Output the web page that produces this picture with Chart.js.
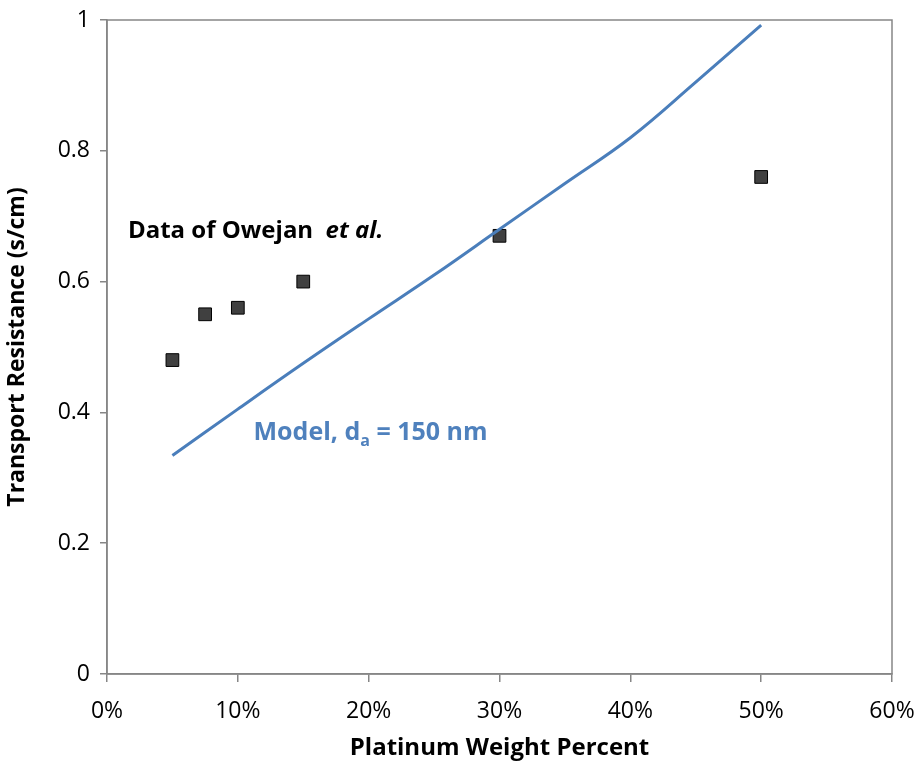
<!DOCTYPE html>
<html>
<head>
<meta charset="utf-8">
<script src="https://cdn.jsdelivr.net/npm/chart.js@4.4.1/dist/chart.umd.min.js"></script>
<style>
  html, body { margin: 0; padding: 0; background: #fff; }
  #wrap { width: 920px; height: 763px; }
</style>
</head>
<body>
<div id="wrap"><canvas id="chart"></canvas></div>
<script>
// measured data (Owejan et al.)
const dataX = [5, 7.5, 10, 15, 30, 50];
const dataY = [0.48, 0.55, 0.56, 0.60, 0.67, 0.76];

// model curve, d_a = 150 nm
const modelX = [5, 10, 15, 20, 25, 30, 35, 40, 45, 50];
const modelY = [0.334, 0.405, 0.475, 0.543, 0.61, 0.68, 0.75, 0.82, 0.905, 0.992];

const xTicks = [0, 10, 20, 30, 40, 50, 60];
const yTicks = [0, 0.2, 0.4, 0.6, 0.8, 1];

const FONT = '"Open Sans", "Liberation Sans", sans-serif';
const axisGray = '#868686';

const toPts = (xs, ys) => xs.map((x, i) => ({ x: x, y: ys[i] }));

// box round the plot + the two text labels
const extras = {
    id: 'extras',
    afterDraw(chart) {
        const ctx = chart.ctx;
        const a = chart.chartArea;
        const sx = chart.scales.x, sy = chart.scales.y;
        ctx.save();
        ctx.strokeStyle = axisGray;
        ctx.lineWidth = 1.5;
        ctx.strokeRect(a.left, a.top, a.right - a.left, a.bottom - a.top);

        // Data of Owejan et al.
        ctx.fillStyle = '#000';
        ctx.textBaseline = 'alphabetic';
        let x = sx.getPixelForValue(1.6), y = sy.getPixelForValue(0.666);
        ctx.font = 'bold 24px ' + FONT;
        const t1 = 'Data of Owejan  ';
        ctx.fillText(t1, x, y);
        x += ctx.measureText(t1).width;
        ctx.font = 'italic bold 24px ' + FONT;
        ctx.fillText('et al.', x, y);

        // Model, d_a = 150 nm
        ctx.fillStyle = '#4f81bd';
        x = sx.getPixelForValue(11.2); y = sy.getPixelForValue(0.358);
        ctx.font = 'bold 25px ' + FONT;
        ctx.fillText('Model, d', x, y);
        x += ctx.measureText('Model, d').width;
        ctx.font = 'bold 16px ' + FONT;
        ctx.fillText('a', x, y + 6);
        x += ctx.measureText('a').width;
        ctx.font = 'bold 25px ' + FONT;
        ctx.fillText(' = 150 nm', x, y);
        ctx.restore();
    }
};

new Chart(document.getElementById('chart'), {
    type: 'scatter',
    data: {
        datasets: [{
            label: 'Model',
            type: 'line',
            data: toPts(modelX, modelY),
            borderColor: '#4a7ebb',
            borderWidth: 3,
            pointRadius: 0,
            tension: 0.4,
            fill: false
        }, {
            label: 'Owejan et al.',
            data: toPts(dataX, dataY),
            pointStyle: 'rect',
            pointRadius: 9,
            pointBackgroundColor: '#404040',
            pointBorderColor: '#000',
            pointBorderWidth: 1
        }]
    },
    options: {
        responsive: true,
        maintainAspectRatio: false,
        animation: false,
        layout: { padding: { top: 20, right: 28, left: 0, bottom: 0 } },
        plugins: { legend: { display: false }, tooltip: { enabled: false } },
        scales: {
            x: {
                type: 'linear',
                min: 0, max: 60,
                afterBuildTicks: (s) => { s.ticks = xTicks.map(v => ({ value: v })); },
                afterFit: (s) => { s.height = 89; s.paddingLeft = 0; s.paddingRight = 0; },
                grid: { drawOnChartArea: false, color: axisGray, tickLength: 8, lineWidth: 1.5 },
                border: { color: axisGray, width: 1.5 },
                ticks: {
                    color: '#000',
                    font: { family: FONT, size: 23 },
                    padding: 16,
                    maxRotation: 0,
                    callback: (v) => v + '%'
                },
                title: {
                    display: true,
                    text: 'Platinum Weight Percent',
                    color: '#000',
                    font: { family: FONT, size: 24, weight: 'bold' },
                    padding: { top: 0, bottom: 0 }
                }
            },
            y: {
                min: 0, max: 1,
                afterBuildTicks: (s) => { s.ticks = yTicks.map(v => ({ value: v })); },
                afterFit: (s) => { s.width = 107; s.paddingTop = 0; s.paddingBottom = 0; },
                grid: { drawOnChartArea: false, color: axisGray, tickLength: 7, lineWidth: 1.5 },
                border: { color: axisGray, width: 1.5 },
                ticks: {
                    color: '#000',
                    font: { family: FONT, size: 23 },
                    padding: 10,
                    callback: (v) => String(Number(v.toFixed(1)))
                },
                title: {
                    display: true,
                    text: 'Transport Resistance (s/cm)',
                    color: '#000',
                    font: { family: FONT, size: 23, weight: 'bold' },
                    padding: { bottom: 4 }
                }
            }
        }
    },
    plugins: [extras]
});
</script>
</body>
</html>
